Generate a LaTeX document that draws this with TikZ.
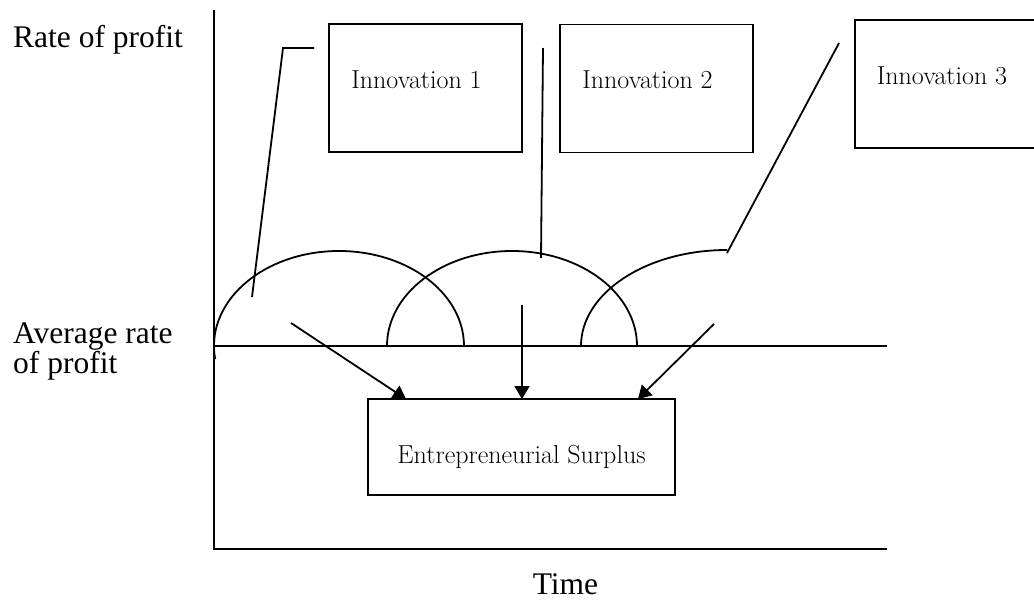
\documentclass[tikz,border=0pt]{standalone}
\usepackage{fontspec}
\newfontfamily\tnr{Liberation Serif}
\usetikzlibrary{arrows.meta}
\tikzset{
  ln/.style={line width=1.8pt, line cap=butt},
  box/.style={draw, line width=1.8pt, inner sep=0pt, minimum width=193pt, minimum height=128pt},
  esbox/.style={draw, line width=1.8pt, inner sep=0pt, minimum width=307pt, minimum height=96pt},
  boxtxt/.style={inner sep=0pt, anchor=base, font=\fontsize{26}{30}\selectfont},
  axlabel/.style={inner sep=0pt, anchor=base west, font=\tnr\fontsize{31.5}{32}\selectfont},
  arr/.style={line width=1.8pt, -{Triangle[length=13pt,width=15pt]}}
}
\begin{document}
\begin{tikzpicture}[x=1pt,y=-1pt]
\useasboundingbox (0,0) rectangle (1034,600);
\clip (0,0) rectangle (1034,600);
\fill[white] (0,0) rectangle (1034,600);

% axes
\coordinate (ytop) at (214,10);
\coordinate (origin) at (214,549);
\coordinate (xend) at (887,549);
\coordinate (avgL) at (214,346);
\coordinate (avgR) at (887,346);
\draw[ln] (ytop) -- (origin) -- (xend);
\draw[ln] (avgL) -- (avgR);

% labels
\node[axlabel] (rate) at (13,47) {Rate of profit};
\node[axlabel] (avg1) at (13,343) {Average rate};
\node[axlabel] (avg2) at (13,373) {of profit};
\node[inner sep=0pt, anchor=base, font=\tnr\fontsize{31.5}{32}\selectfont] (time) at (565.5,594) {Time};

% innovation boxes
\node[box] (inn1) at (425.5,88) {};
\node[box] (inn2) at (656.5,88.5) {};
\node[box] (inn3) at (951.5,84) {};
\node[boxtxt] (t1) at (416.5,88.3) {Innovation 1};
\node[boxtxt] (t2) at (647.5,88) {Innovation 2};
\node[boxtxt] (t3) at (942,84) {Innovation 3};

% arcs (profit humps)
\coordinate (a1s) at (215.2,359.2);
\coordinate (a2s) at (387,346);
\coordinate (a3s) at (581,346);
\draw[ln] (a1s) arc[start angle=188, end angle=0, x radius=125pt, y radius=95pt];
\draw[ln] (a2s) arc[start angle=180, end angle=0, x radius=125pt, y radius=95pt];
\draw[ln] (a3s) arc[start angle=180, end angle=90, x radius=146pt, y radius=96pt];

% leader lines
\coordinate (l1a) at (314,48);
\coordinate (l1b) at (283,48);
\coordinate (l1c) at (252,297);
\draw[ln] (l1a) -- (l1b) -- (l1c);
\coordinate (l2a) at (543,48);
\coordinate (l2b) at (541,258);
\draw[ln] (l2a) -- (l2b);
\coordinate (l3a) at (839,43);
\coordinate (l3b) at (727,253);
\draw[ln] (l3a) -- (l3b);

% entrepreneurial surplus
\node[esbox] (es) at (521.5,447) {};
\node[boxtxt] (est) at (521.5,463) {Entrepreneurial Surplus};

\coordinate (s1) at (291,323);
\coordinate (s2) at (522,305);
\coordinate (s3) at (714,324);
\coordinate (e1) at (406,399);
\coordinate (e2) at (522,399);
\coordinate (e3) at (638,399);
\draw[arr] (s1) -- (e1);
\draw[arr] (s2) -- (e2);
\draw[arr] (s3) -- (e3);
\end{tikzpicture}
\end{document}
